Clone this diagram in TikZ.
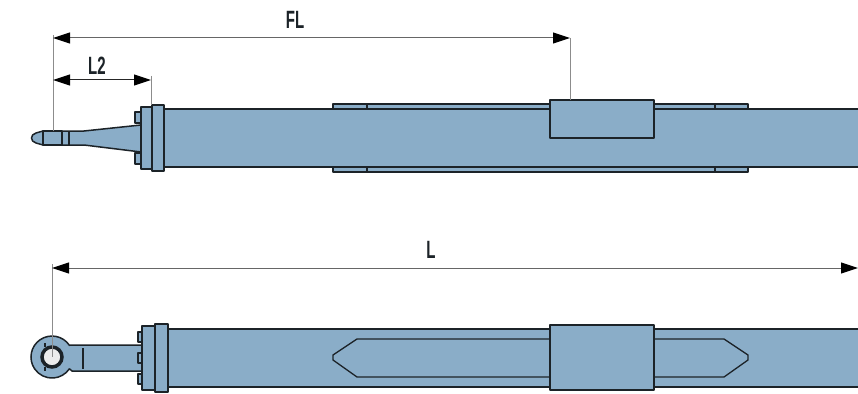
\documentclass[tikz,border=0pt]{standalone}
\usepackage{fontspec}
\setmainfont{Liberation Sans}
\usetikzlibrary{arrows.meta}
\definecolor{steel}{HTML}{8AADC8}
\definecolor{ink}{HTML}{1C2328}
\definecolor{extgray}{HTML}{8C8C8C}
\tikzset{
  part/.style={draw=ink,fill=steel,line width=1.5pt,line join=round},
  thinpart/.style={draw=ink,line width=1.3pt},
  extline/.style={draw=extgray,line width=1pt},
  dimline/.style={draw=black!85,line width=1pt,{Stealth[length=17pt,width=11pt,inset=0pt,color=black,fill=black]}-{Stealth[length=17pt,width=11pt,inset=0pt,color=black,fill=black]}},
  dimtext/.style={font=\bfseries\fontsize{25}{25}\selectfont,xscale=.6,inner sep=0pt,text=ink}
}
\begin{document}
\begin{tikzpicture}[x=1pt,y=-1pt]
\useasboundingbox (0,0) rectangle (858,393);
% --- upper view
\fill[white] (0,0) rectangle (858,393);
\draw[part] (333,104) rectangle (748,172);
\draw[thinpart] (367,104) -- (367,172) (715,104) -- (715,172);
\fill[steel] (163,109) rectangle (858,167);
\draw[part,fill=none] (858,109) -- (163,109) (163,167) -- (858,167);
\draw[part] (550,100) rectangle (654,138);
% rod
\draw[part] (141,125) -- (84,131) -- (43,131) -- (36,133) .. controls (30,134.5) and (30,141.5) .. (36,143) -- (43,145) -- (84,145) -- (141,152) -- cycle;
\draw[part,fill=none,line width=1.8pt] (43,131) rectangle (62,145);
\draw[thinpart] (69,131) -- (69,145);
% bolts and flange
\draw[part] (135,112) rectangle (141,123);
\draw[part] (135,153) rectangle (141,164);
\draw[part] (141,107) rectangle (152,169);
\draw[part] (152,105) rectangle (164,171);
% --- lower view
\fill[steel] (168,329) rectangle (858,387);
\draw[part,fill=none,line width=1.7pt] (858,329) -- (168,329) (168,387) -- (858,387);
\draw[thinpart] (550,339) -- (357,339) -- (333,355) -- (333,360) -- (357,377) -- (550,377);
\draw[thinpart] (654,339) -- (724,339) -- (748,355) -- (748,360) -- (724,377) -- (654,377);
\draw[part] (550,325) rectangle (654,390);
% eye and rod
\draw[part] (143,345) -- (72,345) -- (69.4,345.3) arc[start angle=-34,end angle=-326,radius=21] -- (72,371) -- (143,371) -- cycle;
\draw[ink,line width=3.5pt,fill=white!85!gray] (52,357) circle (10);
\draw[thinpart] (45,343) -- (45,347) (45,367) -- (45,371);
\draw[ink,line width=2pt] (83,348) -- (83,369);
% bolts and flange
\draw[part] (138,332) rectangle (144,342);
\draw[part] (138,353) rectangle (144,363);
\draw[part] (138,374) rectangle (144,384);
\draw[part] (142,326) rectangle (155,390);
\draw[part] (155,324) rectangle (168,392);
% --- dimensions
\coordinate (flA) at (53,38);
\coordinate (flB) at (570,38);
\coordinate (ltA) at (53,80);
\coordinate (ltB) at (151,80);
\coordinate (lA) at (52,268);
\coordinate (lB) at (858,268);
\coordinate (rodTop) at (53,131);
\coordinate (flangeTop) at (151,105);
\coordinate (blockTop) at (570,100);
\coordinate (eyeCentre) at (52,357);
\draw[extline] (53,35) -- (rodTop);
\draw[extline] (151,76) -- (flangeTop);
\draw[extline] (flB) -- (blockTop);
\draw[extline] (52,264) -- (eyeCentre);
\draw[dimline,draw=black!60] (flA) -- (flB);
\draw[dimline] (ltA) -- (ltB);
\draw[dimline,draw=black!60] (lA) -- (lB);
\node[dimtext] (fl) at (295,19.5) {FL};
\node[dimtext] (l2) at (97,65.5) {L2};
\node[dimtext] (ll) at (431,250) {L};
\end{tikzpicture}
\end{document}
